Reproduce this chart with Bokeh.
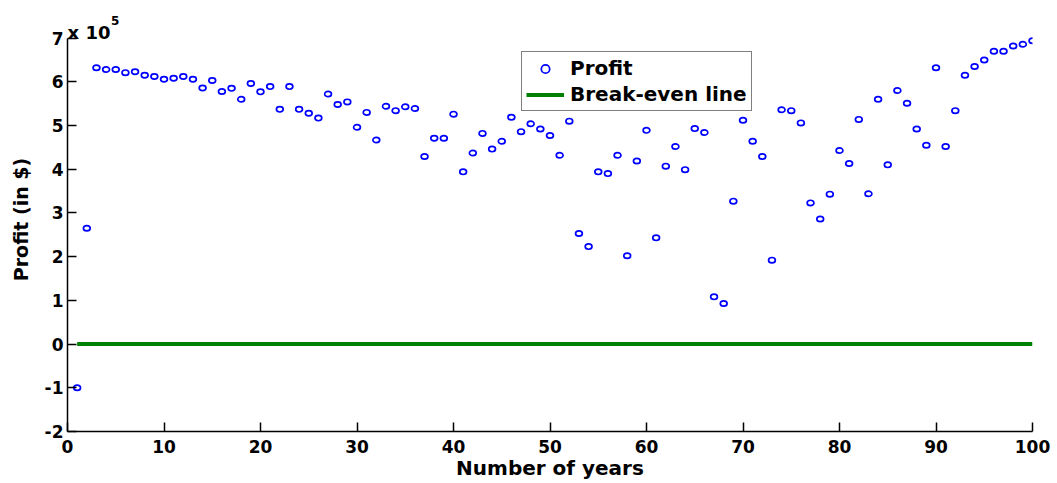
from bokeh.plotting import figure
from bokeh.models import Label, CustomJSTickFormatter, FixedTicker, Range1d, Legend, LegendItem
from bokeh.embed import file_html
from bokeh.resources import INLINE

years = list(range(1, 101))
profit = [
    -100000, 265000, 632000, 628000, 628000, 621000, 623000, 615000, 612000, 606000,
    608000, 612000, 606000, 586000, 603000, 578000, 585000, 560000, 596000, 577000,
    589000, 537000, 589000, 537000, 528000, 517000, 572000, 548000, 554000, 496000,
    530000, 467000, 544000, 534000, 543000, 539000, 429000, 471000, 471000, 526000,
    394000, 437000, 482000, 446000, 464000, 519000, 486000, 504000, 492000, 477000,
    432000, 510000, 253000, 223000, 394000, 390000, 432000, 202000, 419000, 489000,
    243000, 407000, 452000, 399000, 493000, 484000, 108000, 93000, 327000, 512000,
    464000, 429000, 192000, 536000, 534000, 506000, 323000, 286000, 343000, 443000,
    413000, 514000, 344000, 560000, 410000, 580000, 551000, 492000, 455000, 632000,
    452000, 534000, 615000, 635000, 650000, 670000, 670000, 682000, 686000, 694000,
]
breakeven_x = [1, 100]
breakeven_y = [0, 0]
x_ticks = list(range(0, 101, 10))
y_ticks = [v * 100000 for v in range(-2, 8)]

FONT = "DejaVu Sans"
BLUE = "#0000FF"
GREEN = "#008000"

p = figure(width=1057, height=483, output_backend="svg", toolbar_location=None,
           x_range=Range1d(0, 100), y_range=Range1d(-200000, 770000),
           min_border_left=67, min_border_right=25, min_border_top=7, min_border_bottom=52)
p.outline_line_color = None
p.xgrid.visible = False
p.ygrid.visible = False

p.ellipse(years, profit, width=6.8, height=5.3, width_units="screen", height_units="screen",
          fill_color=None, line_color=BLUE, line_width=1.7)
r_legend_marker = p.scatter([float("nan")], [float("nan")], marker="circle", size=7,
                            fill_color=None, line_color=BLUE, line_width=1.7)
r_line = p.line(breakeven_x, breakeven_y, line_color=GREEN, line_width=4)

for ax in (p.xaxis[0], p.yaxis[0]):
    ax.axis_line_color = "black"
    ax.axis_line_width = 1.5
    ax.major_tick_line_color = "black"
    ax.major_tick_line_width = 1.5
    ax.major_tick_in = 9
    ax.major_tick_out = 0
    ax.minor_tick_line_color = None
    ax.major_label_text_font = FONT
    ax.major_label_text_font_style = "bold"
    ax.major_label_text_font_size = "17px"
    ax.major_label_text_color = "black"
    ax.axis_label_text_font = FONT
    ax.axis_label_text_font_style = "bold"
    ax.axis_label_text_color = "black"

p.yaxis.bounds = (-200000, 700000)
p.xaxis.ticker = FixedTicker(ticks=x_ticks)
p.yaxis.ticker = FixedTicker(ticks=y_ticks)
p.yaxis.formatter = CustomJSTickFormatter(code="return (tick/1e5).toFixed(0);")
p.xaxis.major_label_standoff = 8
p.yaxis.major_label_standoff = 4
p.xaxis.axis_label = "Number of years"
p.xaxis.axis_label_text_font_size = "20px"
p.xaxis.axis_label_standoff = 0
p.yaxis.axis_label = "Profit (in $)"
p.yaxis.axis_label_text_font_size = "19px"
p.yaxis.axis_label_standoff = 10

p.add_layout(Label(x=0, y=700000, x_offset=0, y_offset=6, text="x 10",
                   text_font=FONT, text_font_style="bold", text_font_size="18px",
                   text_color="black", text_baseline="alphabetic"))
p.add_layout(Label(x=0, y=700000, x_offset=43.5, y_offset=17.5, text="5",
                   text_font=FONT, text_font_style="bold", text_font_size="12px",
                   text_color="black", text_baseline="alphabetic"))

legend = Legend(items=[LegendItem(label="Profit", renderers=[r_legend_marker]),
                       LegendItem(label="Break-even line", renderers=[r_line])],
                location=(454, 320), padding=4, spacing=2, label_height=21, glyph_height=21,
                glyph_width=38, label_standoff=6, margin=0,
                label_text_font=FONT, label_text_font_style="bold", label_text_font_size="20px",
                label_text_color="black", border_line_color="black", border_line_width=1.5,
                background_fill_color="white", background_fill_alpha=1.0)
p.add_layout(legend)

open("out.html", "w").write(file_html(p, INLINE))
